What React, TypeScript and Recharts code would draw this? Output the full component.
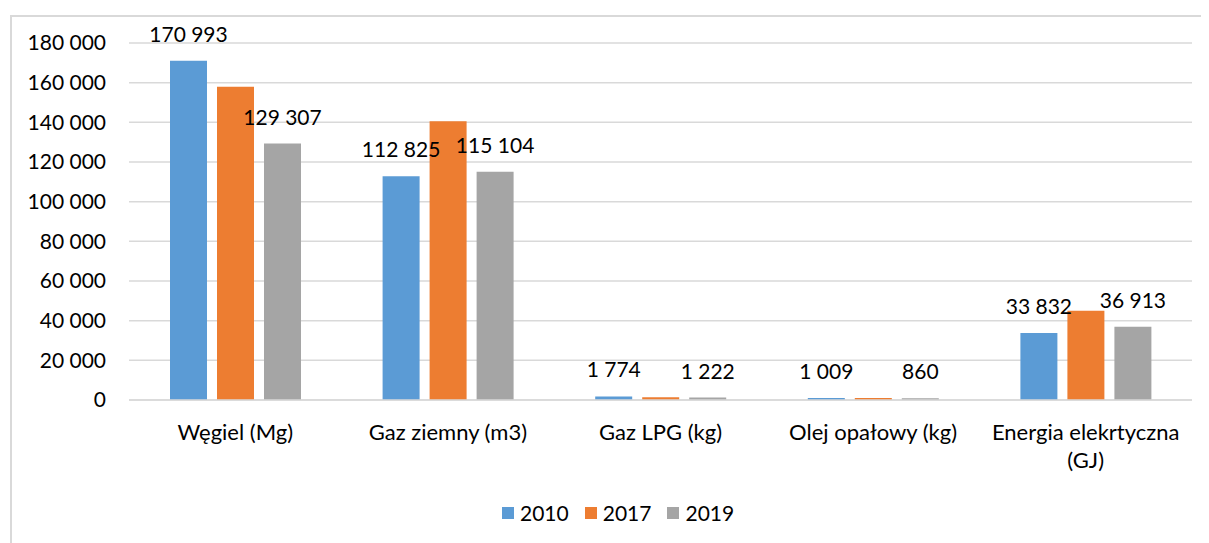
import React from "react";
import { BarChart, Bar, XAxis, YAxis, CartesianGrid, LabelList } from "recharts";

const categories = ["Węgiel (Mg)", "Gaz ziemny (m3)", "Gaz LPG (kg)", "Olej opałowy (kg)", "Energia elekrtyczna (GJ)"];
const series2010 = [170993, 112825, 1774, 1009, 33832];
const series2017 = [158000, 140600, 1400, 950, 45000];
const series2019 = [129307, 115104, 1222, 860, 36913];
const seriesNames = ["2010", "2017", "2019"];
const colors = ["#5B9BD5", "#ED7D31", "#A5A5A5"];
const yTicks = [0, 20000, 40000, 60000, 80000, 100000, 120000, 140000, 160000, 180000];

const data = categories.map((c, i) => ({
  name: c,
  s2010: series2010[i],
  s2017: series2017[i],
  s2019: series2019[i],
}));

const FONT = "Lato, 'DejaVu Sans', sans-serif";
const fmt = (v: number) => String(v).replace(/\B(?=(\d{3})+(?!\d))/g, " ");

const XTick = (props: any) => {
  const { x, y, payload } = props;
  const text: string = payload.value;
  let lines = [text];
  if (text.length > 20) {
    const idx = text.lastIndexOf(" ");
    lines = [text.slice(0, idx), text.slice(idx + 1)];
  }
  return (
    <g>
      {lines.map((l, i) => (
        <text key={i} x={x} y={y + 32 + i * 28} textAnchor="middle" fill="#000" fontSize={22} fontFamily={FONT}>
          {l}
        </text>
      ))}
    </g>
  );
};

const renderLabel = (props: any) => {
  const { x, y, width, value } = props;
  return (
    <text x={Number(x) + Number(width) / 2} y={Number(y) - 19} textAnchor="middle" fill="#000" fontSize={21} fontFamily={FONT}>
      {fmt(Number(value))}
    </text>
  );
};

export default function App() {
  return (
    <div style={{ position: "relative", width: 1201, height: 535, overflow: "hidden" }}>
      <div
        style={{
          position: "absolute",
          left: 2,
          top: 7,
          width: 1400,
          height: 700,
          border: "2px solid #d9d9d9",
          boxSizing: "border-box",
        }}
      />
      <div style={{ position: "absolute", left: -8, top: -8 }}>
        <BarChart
          width={1209}
          height={543}
          data={data}
          margin={{ top: 43, right: 17, bottom: 83, left: 0 }}
          barGap={10}
          barSize={37}
        >
          <CartesianGrid vertical={false} stroke="#d9d9d9" strokeWidth={1.5} />
          <XAxis
            dataKey="name"
            height={60}
            axisLine={{ stroke: "#d9d9d9", strokeWidth: 1.5 }}
            tickLine={false}
            tick={<XTick />}
            interval={0}
          />
          <YAxis
            width={129}
            domain={[0, 180000]}
            ticks={yTicks}
            axisLine={false}
            tickLine={false}
            tickSize={0}
            tickMargin={23}
            tickFormatter={fmt}
            tick={{ fill: "#000", fontSize: 21, fontFamily: FONT }}
          />
          <Bar dataKey="s2010" fill={colors[0]} isAnimationActive={false}>
            <LabelList dataKey="s2010" content={renderLabel} />
          </Bar>
          <Bar dataKey="s2017" fill={colors[1]} isAnimationActive={false} />
          <Bar dataKey="s2019" fill={colors[2]} isAnimationActive={false}>
            <LabelList dataKey="s2019" content={renderLabel} />
          </Bar>
        </BarChart>
      </div>
      <div
        style={{
          position: "absolute",
          left: 494,
          top: 492,
          display: "flex",
          alignItems: "center",
          fontFamily: FONT,
          fontSize: 21,
          color: "#000",
        }}
      >
        {seriesNames.map((n, i) => (
          <div key={n} style={{ display: "flex", alignItems: "center", marginRight: 16 }}>
            <div style={{ width: 12, height: 12, background: colors[i], marginRight: 6 }} />
            <span>{n}</span>
          </div>
        ))}
      </div>
    </div>
  );
}
